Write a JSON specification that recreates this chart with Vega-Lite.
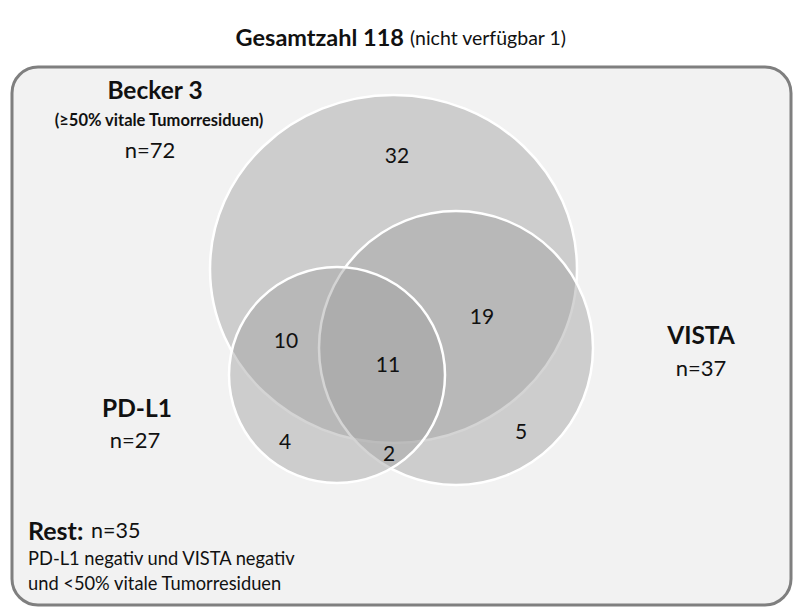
{
  "$schema": "https://vega.github.io/schema/vega-lite/v6.json",
  "width": 800,
  "height": 612,
  "autosize": {"type": "fit", "contains": "padding"},
  "padding": 0,
  "background": "white",
  "config": {"view": {"stroke": null}, "text": {"font": "Lato", "color": "#111111"}},
  "encoding": {
    "x": {"field": "x", "type": "quantitative", "scale": {"domain": [0, 800], "nice": false, "zero": false}, "axis": null},
    "y": {"field": "y", "type": "quantitative", "scale": {"domain": [0, 612], "reverse": true, "nice": false, "zero": false}, "axis": null}
  },
  "layer": [
    {
      "data": {"values": [{"x": 12, "x2": 791, "y": 67, "y2": 605}]},
      "mark": {"type": "rect", "cornerRadius": 26, "fill": "#f2f2f2", "stroke": "#7f7f7f", "strokeWidth": 3},
      "encoding": {"x2": {"field": "x2"}, "y2": {"field": "y2"}}
    },
    {
      "data": {"values": [
        {"set": "Becker 3", "n": 72, "x": 393.5, "y": 269},
        {"set": "VISTA", "n": 37, "x": 456, "y": 348},
        {"set": "PD-L1", "n": 27, "x": 337, "y": 375}
      ]},
      "mark": {"type": "point", "filled": true, "color": "#a0a0a0", "opacity": 1, "fillOpacity": 0.45, "stroke": "white", "strokeWidth": 2.5, "strokeOpacity": 1},
      "encoding": {
        "size": {"field": "n", "type": "quantitative", "scale": {"type": "linear", "zero": false, "domain": [27, 37, 72], "range": [46656, 75076, 134689]}, "legend": null},
        "shape": {"field": "set", "type": "nominal", "scale": {"domain": ["Becker 3", "VISTA", "PD-L1"], "range": ["M-1,0A1,0.948,0,1,1,1,0A1,0.948,0,1,1,-1,0Z", "circle", "circle"]}, "legend": null}
      }
    },
    {
      "data": {"values": [{"t": "Gesamtzahl 118", "x": 404, "y": 39}]},
      "mark": {"type": "text", "fontWeight": "bold", "fontSize": 23.5, "align": "right", "baseline": "middle"},
      "encoding": {"text": {"field": "t"}}
    },
    {
      "data": {"values": [{"t": "(nicht verfügbar 1)", "x": 410, "y": 39}]},
      "mark": {"type": "text", "fontSize": 19.5, "align": "left", "baseline": "middle"},
      "encoding": {"text": {"field": "t"}}
    },
    {
      "data": {"values": [
        {"t": "Becker 3", "x": 155, "y": 92},
        {"t": "VISTA", "x": 701, "y": 337},
        {"t": "PD-L1", "x": 137, "y": 410}
      ]},
      "mark": {"type": "text", "fontWeight": "bold", "fontSize": 24.5, "align": "center", "baseline": "middle"},
      "encoding": {"text": {"field": "t"}}
    },
    {
      "data": {"values": [{"t": "(≥50% vitale Tumorresiduen)", "x": 159, "y": 121}]},
      "mark": {"type": "text", "fontWeight": "bold", "fontSize": 16.5, "align": "center", "baseline": "middle"},
      "encoding": {"text": {"field": "t"}}
    },
    {
      "data": {"values": [
        {"t": "n=72", "x": 150, "y": 151},
        {"t": "n=37", "x": 701, "y": 369},
        {"t": "n=27", "x": 135, "y": 441}
      ]},
      "mark": {"type": "text", "fontSize": 22, "align": "center", "baseline": "middle"},
      "encoding": {"text": {"field": "t"}}
    },
    {
      "data": {"values": [
        {"t": "32", "x": 397, "y": 157},
        {"t": "10", "x": 286, "y": 342},
        {"t": "11", "x": 388, "y": 366},
        {"t": "19", "x": 482, "y": 318},
        {"t": "4", "x": 285, "y": 443},
        {"t": "2", "x": 389, "y": 455},
        {"t": "5", "x": 521, "y": 433}
      ]},
      "mark": {"type": "text", "fontSize": 21, "align": "center", "baseline": "middle"},
      "encoding": {"text": {"field": "t"}}
    },
    {
      "data": {"values": [{"t": "Rest:", "x": 28, "y": 532}]},
      "mark": {"type": "text", "fontWeight": "bold", "fontSize": 25, "align": "left", "baseline": "middle"},
      "encoding": {"text": {"field": "t"}}
    },
    {
      "data": {"values": [{"t": "n=35", "x": 91, "y": 532}]},
      "mark": {"type": "text", "fontSize": 21.5, "align": "left", "baseline": "middle"},
      "encoding": {"text": {"field": "t"}}
    },
    {
      "data": {"values": [
        {"t": "PD-L1 negativ und VISTA negativ", "x": 28, "y": 560},
        {"t": "und <50% vitale Tumorresiduen", "x": 28, "y": 585}
      ]},
      "mark": {"type": "text", "fontSize": 18.3, "align": "left", "baseline": "middle"},
      "encoding": {"text": {"field": "t"}}
    }
  ]
}
